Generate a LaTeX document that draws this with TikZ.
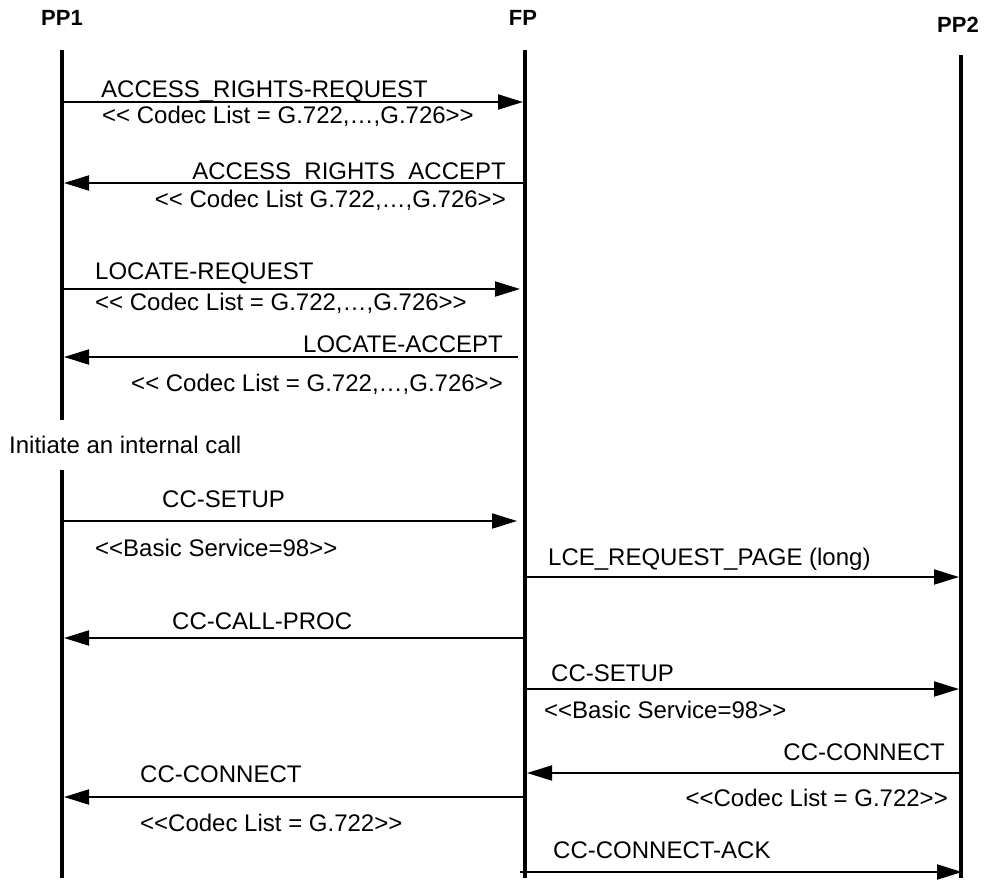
\documentclass[tikz,border=0pt]{standalone}
\usepackage{fontspec}
\setmainfont{Liberation Sans}
\usetikzlibrary{arrows.meta}
\tikzset{
  lifeline/.style={line width=4pt},
  msg/.style={line width=2pt,-{Triangle[length=25pt,width=15pt]}},
  lbl/.style={inner sep=0pt,font=\fontsize{24}{28}\selectfont},
  hdr/.style={inner sep=0pt,font=\fontsize{22}{26}\selectfont\bfseries},
}
\begin{document}
\begin{tikzpicture}[x=1pt,y=-1pt]
\useasboundingbox (0,0) rectangle (988,881);
% headers
\node[hdr] (hPP1) at (62,18) {PP1};
\node[hdr] (hFP) at (523,18) {FP};
\node[hdr] (hPP2) at (958,25) {PP2};
% lifelines
\coordinate (p1a) at (62,50); \coordinate (p1b) at (62,420);
\coordinate (p1c) at (62,470); \coordinate (p1d) at (62,878);
\coordinate (fpa) at (525,50); \coordinate (fpb) at (525,878);
\coordinate (p2a) at (961,55); \coordinate (p2b) at (961,878);
\draw[lifeline] (p1a) -- (p1b);
\draw[lifeline] (p1c) -- (p1d);
\draw[lifeline] (fpa) -- (fpb);
\draw[lifeline] (p2a) -- (p2b);
% message end points
\coordinate (m1s) at (64,102);  \coordinate (m1e) at (523,102);
\coordinate (m2s) at (523,183); \coordinate (m2e) at (64,183);
\coordinate (m3s) at (64,289);  \coordinate (m3e) at (520,289);
\coordinate (m4s) at (518,357); \coordinate (m4e) at (64,357);
\coordinate (m5s) at (64,521);  \coordinate (m5e) at (517,521);
\coordinate (m6s) at (527,577); \coordinate (m6e) at (959,577);
\coordinate (m7s) at (527,638); \coordinate (m7e) at (64,638);
\coordinate (m8s) at (527,689); \coordinate (m8e) at (959,689);
\coordinate (m9s) at (959,773); \coordinate (m9e) at (527,773);
\coordinate (m10s) at (523,797); \coordinate (m10e) at (64,797);
\coordinate (m11s) at (520,872); \coordinate (m11e) at (962,872);
\draw[msg] (m1s) -- (m1e);
\draw[msg] (m2s) -- (m2e);
\draw[msg] (m3s) -- (m3e);
\draw[msg] (m4s) -- (m4e);
\draw[msg] (m5s) -- (m5e);
\draw[msg] (m6s) -- (m6e);
\draw[msg] (m7s) -- (m7e);
\draw[msg] (m8s) -- (m8e);
\draw[msg] (m9s) -- (m9e);
\draw[msg] (m10s) -- (m10e);
\draw[msg] (m11s) -- (m11e);
% labels
\node[lbl,anchor=base west] (t1) at (101,97) {ACCESS\_RIGHTS-REQUEST};
\node[lbl,anchor=base west] (t1b) at (102,123) {<{}< Codec List = G.722,…,G.726>{}>};
\node[lbl,anchor=base east] (t2) at (506,179) {ACCESS\_RIGHTS\_ACCEPT};
\node[lbl,anchor=base east] (t2b) at (506,207) {<{}< Codec List G.722,…,G.726>{}>};
\node[lbl,anchor=base west] (t3) at (95,279) {LOCATE-REQUEST};
\node[lbl,anchor=base west] (t3b) at (95,310) {<{}< Codec List = G.722,…,G.726>{}>};
\node[lbl,anchor=base east] (t4) at (503,352) {LOCATE-ACCEPT};
\node[lbl,anchor=base east] (t4b) at (503,391) {<{}< Codec List = G.722,…,G.726>{}>};
\node[lbl,anchor=base west] (t0) at (9,453) {Initiate an internal call};
\node[lbl,anchor=base west] (t5) at (162,507) {CC-SETUP};
\node[lbl,anchor=base west] (t5b) at (95,556) {<{}<Basic Service=98>{}>};
\node[lbl,anchor=base west] (t6) at (548,565) {LCE\_REQUEST\_PAGE (long)};
\node[lbl,anchor=base west] (t7) at (172,629) {CC-CALL-PROC};
\node[lbl,anchor=base west] (t8) at (551,681) {CC-SETUP};
\node[lbl,anchor=base west] (t8b) at (544,718) {<{}<Basic Service=98>{}>};
\node[lbl,anchor=base east] (t9) at (945,760) {CC-CONNECT};
\node[lbl,anchor=base east] (t9b) at (948,806) {<{}<Codec List = G.722>{}>};
\node[lbl,anchor=base west] (t10) at (140,782) {CC-CONNECT};
\node[lbl,anchor=base west] (t10b) at (140,831) {<{}<Codec List = G.722>{}>};
\node[lbl,anchor=base west] (t11) at (553,858) {CC-CONNECT-ACK};
\end{tikzpicture}
\end{document}
